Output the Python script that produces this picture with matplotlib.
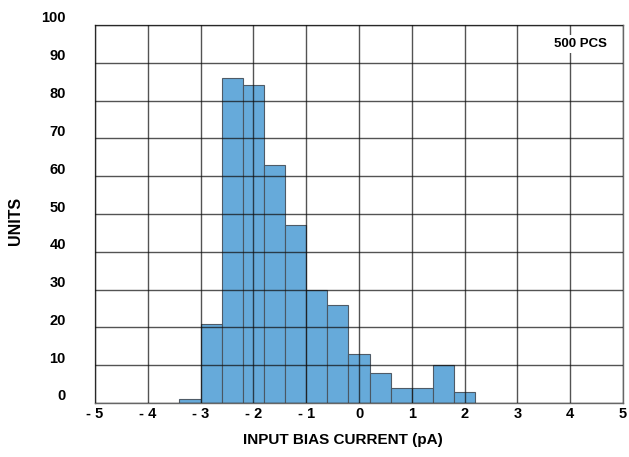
import matplotlib
matplotlib.use("Agg")
import matplotlib.pyplot as plt
import matplotlib.transforms as mtransforms

bin_left = [-3.4, -3.0, -2.6, -2.2, -1.8, -1.4, -1.0, -0.6, -0.2, 0.2, 0.6, 1.0, 1.4, 1.8]
units = [1, 21, 86, 84, 63, 47, 30, 26, 13, 8, 4, 4, 10, 3]
bin_width = 0.4
x_ticks = [-5, -4, -3, -2, -1, 0, 1, 2, 3, 4, 5]
x_tick_labels = ["- 5", "- 4", "- 3", "- 2", "- 1", "0", "1", "2", "3", "4", "5"]
y_ticks = [0, 10, 20, 30, 40, 50, 60, 70, 80, 90, 100]

FONT = ["Liberation Sans Narrow", "Liberation Sans", "DejaVu Sans"]

fig = plt.figure(figsize=(6.29, 4.57), dpi=100)
ax = fig.add_axes([95/629, 1-403/457, (623-95)/629, (403-25)/457])

ax.bar(bin_left, units, width=bin_width, align="edge", color="#5ea6d8",
       edgecolor="#4a5560", linewidth=0.8, alpha=0.95, zorder=2)

ax.set_xlim(-5, 5)
ax.set_ylim(0, 100)
ax.set_xticks(x_ticks)
ax.set_xticklabels(x_tick_labels)
ax.set_yticks(y_ticks)
ax.grid(True, color="#111111", linewidth=1.0, alpha=0.72, zorder=3)
ax.set_axisbelow(False)
ax.tick_params(length=0, pad=3)
for lab in ax.get_xticklabels() + ax.get_yticklabels():
    lab.set_fontfamily(FONT)
    lab.set_fontweight("bold")
    lab.set_fontsize(10.5)
offset = mtransforms.ScaledTranslation(-25/100, 8/100, fig.dpi_scale_trans)
for lab in ax.get_yticklabels():
    lab.set_transform(lab.get_transform() + offset)
for s in ax.spines.values():
    s.set_color("#666666")
    s.set_linewidth(1.0)

ax.set_xlabel("INPUT BIAS CURRENT (pA)", fontfamily=FONT, fontweight="bold",
              fontsize=11)
ax.xaxis.set_label_coords(0.47, -0.079)
ax.set_ylabel("UNITS", fontfamily=FONT, fontweight="bold", fontsize=11.5)
ax.yaxis.set_label_coords(-0.136, 0.481)

ax.text(4.2, 95, "500 PCS", fontfamily=FONT, fontweight="bold", fontsize=9.5,
        ha="center", va="center", zorder=5,
        bbox=dict(facecolor="white", edgecolor="none", pad=2))

fig.savefig("out.png", dpi=100)
